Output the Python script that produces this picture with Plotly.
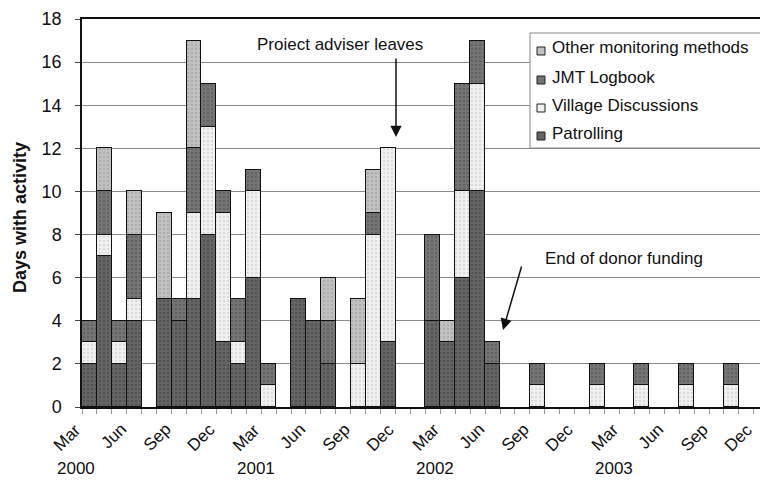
import plotly.graph_objects as go

# ---- data ----
month_names = ["Mar", "Apr", "May", "Jun", "Jul", "Aug", "Sep", "Oct", "Nov", "Dec", "Jan", "Feb"]
# 46 months: Mar 2000 .. Dec 2003
months = [f"{month_names[i % 12]} {2000 + (i + 2) // 12}" for i in range(46)]

patrolling = [2, 7, 2, 4, 0, 5, 4, 5, 8, 3, 2, 6,
              0, 0, 5, 4, 2, 0, 0, 0, 3, 0, 0, 4,
              3, 6, 10, 2, 0, 0, 0, 0, 0, 0, 0, 0,
              0, 0, 0, 0, 0, 0, 0, 0, 0, 0]
village = [1, 1, 1, 1, 0, 0, 0, 4, 5, 6, 1, 4,
           1, 0, 0, 0, 0, 0, 2, 8, 9, 0, 0, 0,
           0, 4, 5, 0, 0, 0, 1, 0, 0, 0, 1, 0,
           0, 1, 0, 0, 1, 0, 0, 1, 0, 0]
jmt = [1, 2, 1, 3, 0, 0, 1, 3, 2, 1, 2, 1,
       1, 0, 0, 0, 2, 0, 0, 1, 0, 0, 0, 4,
       0, 5, 2, 1, 0, 0, 1, 0, 0, 0, 1, 0,
       0, 1, 0, 0, 1, 0, 0, 1, 0, 0]
other = [0, 2, 0, 2, 0, 4, 0, 5, 0, 0, 0, 0,
         0, 0, 0, 0, 2, 0, 3, 2, 0, 0, 0, 0,
         1, 0, 0, 0, 0, 0, 0, 0, 0, 0, 0, 0,
         0, 0, 0, 0, 0, 0, 0, 0, 0, 0]

tick_months = ["Mar", "Jun", "Sep", "Dec"]
y_ticks = list(range(0, 19, 2))

FONT = "Liberation Sans, Arial, sans-serif"
FS = 17

xs = list(range(len(months)))

def nz(v):
    return [None if a == 0 else a for a in v]

# stacking order bottom -> top
series = [
    ("Patrolling", patrolling, "#646464", "#404040"),
    ("Village Discussions", village, "#f0f0f0", "#c4c4c4"),
    ("JMT Logbook", jmt, "#747474", "#4e4e4e"),
    ("Other monitoring methods", other, "#c0c0c0", "#969696"),
]

fig = go.Figure()
for name, vals, col, fg in series:
    fig.add_trace(go.Bar(
        x=xs, y=nz(vals), name=name, showlegend=False,
        marker=dict(color=col, line=dict(color="#111111", width=1.5),
                    pattern=dict(shape=".", fgcolor=fg, size=4, solidity=0.25)),
    ))

# geometry: plot left at 82px, 14.93px per month, right edge at 760px
L, T, B = 82, 19, 407
px_per = 14.93
plot_w = 760 - L
plot_h = B - T
x_max = -0.5 + plot_w / px_per

def pxp(p):  # pixel x -> paper
    return (p - L) / plot_w

def pyp(p):  # pixel y -> paper
    return (B - p) / plot_h

def px2x(p):
    return (p - L) / px_per - 0.5

def py2y(p):
    return (B - p) / (plot_h / 18)

annotations = []
shapes = []
# month tick labels (paper coords so the last one is not hidden)
for i, m in enumerate(months):
    mn = m.split()[0]
    if mn in tick_months:
        cx = L + (i + 0.5) * px_per
        annotations.append(dict(
            x=pxp(cx), y=0, xref="paper", yref="paper", text=mn, showarrow=False,
            textangle=-45, xanchor="right", yanchor="top",
            xshift=-2, yshift=-10,
            font=dict(family=FONT, size=FS, color="#111111")))
# year labels under March
for i, m in enumerate(months):
    mn, yr = m.split()
    if mn == "Mar":
        cx = L + (i + 0.5) * px_per
        annotations.append(dict(
            x=pxp(cx), y=0, xref="paper", yref="paper", text=yr, showarrow=False,
            xanchor="center", yanchor="middle", xshift=-13, yshift=-61,
            font=dict(family=FONT, size=FS, color="#111111")))

# y axis title
annotations.append(dict(
    x=pxp(20), y=pyp(218), xref="paper", yref="paper",
    text="<b>Days with activity</b>", textangle=-90, showarrow=False,
    xanchor="center", yanchor="middle",
    font=dict(family=FONT, size=18, color="#111111")))

# event annotations
annotations.append(dict(
    x=px2x(340), y=py2y(44), xref="x", yref="y", text="Proiect adviser leaves",
    showarrow=False, xanchor="center", yanchor="middle",
    font=dict(family=FONT, size=FS, color="#111111")))
annotations.append(dict(
    x=px2x(396), y=py2y(137), ax=px2x(396), ay=py2y(57), xref="x", yref="y",
    axref="x", ayref="y", text="", showarrow=True, arrowhead=2, arrowsize=1.5,
    arrowwidth=1.5, arrowcolor="#111111"))
annotations.append(dict(
    x=px2x(624), y=py2y(258), xref="x", yref="y", text="End of donor funding",
    showarrow=False, xanchor="center", yanchor="middle",
    font=dict(family=FONT, size=FS, color="#111111")))
annotations.append(dict(
    x=px2x(503), y=py2y(330), ax=px2x(522), ay=py2y(265), xref="x", yref="y",
    axref="x", ayref="y", text="", showarrow=True, arrowhead=2, arrowsize=1.5,
    arrowwidth=1.5, arrowcolor="#111111"))

# legend (drawn by hand: box, swatches, labels), top item first
shapes.append(dict(type="rect", xref="paper", yref="paper",
                   x0=pxp(530), x1=pxp(800), y0=pyp(148), y1=pyp(33),
                   line=dict(color="#888888", width=1), fillcolor="white", layer="above"))
legend_rows = [48, 77, 105, 133]
for (name, vals, col, fg), ry in zip(reversed(series), legend_rows):
    shapes.append(dict(type="rect", xref="paper", yref="paper",
                       x0=pxp(537), x1=pxp(545), y0=pyp(ry + 7), y1=pyp(ry - 1),
                       line=dict(color="#222222", width=1), fillcolor=col, layer="above"))
    annotations.append(dict(
        x=pxp(550), y=pyp(ry), xref="paper", yref="paper", text=name,
        showarrow=False, xanchor="left", yanchor="middle",
        font=dict(family=FONT, size=FS, color="#111111")))

fig.update_layout(
    width=760, height=484,
    margin=dict(l=L, r=0, t=T, b=484 - B, autoexpand=False),
    paper_bgcolor="white", plot_bgcolor="white",
    barmode="stack", bargap=0,
    font=dict(family=FONT, size=FS, color="#111111"),
    showlegend=False,
    annotations=annotations,
    shapes=shapes,
)
fig.update_xaxes(
    range=[-0.5, x_max], tickmode="array",
    tickvals=[i - 0.5 for i in range(len(months) + 1)],
    showticklabels=False, ticks="outside", ticklen=5, tickcolor="#999999",
    showgrid=False, showline=True, linecolor="#111111", linewidth=1.5,
    mirror=True, zeroline=False,
)
fig.update_yaxes(
    range=[0, 18], tickmode="array", tickvals=y_ticks,
    ticks="outside", ticklen=5, tickcolor="#444444",
    tickfont=dict(family=FONT, size=18, color="#111111"), ticklabelstandoff=10,
    showgrid=True, gridcolor="#8a8a8a", gridwidth=1,
    showline=True, linecolor="#111111", linewidth=1.5, zeroline=False,
)

fig.write_html("out.html", config={"displayModeBar": False},
               post_script="document.body.style.margin='0px';")
